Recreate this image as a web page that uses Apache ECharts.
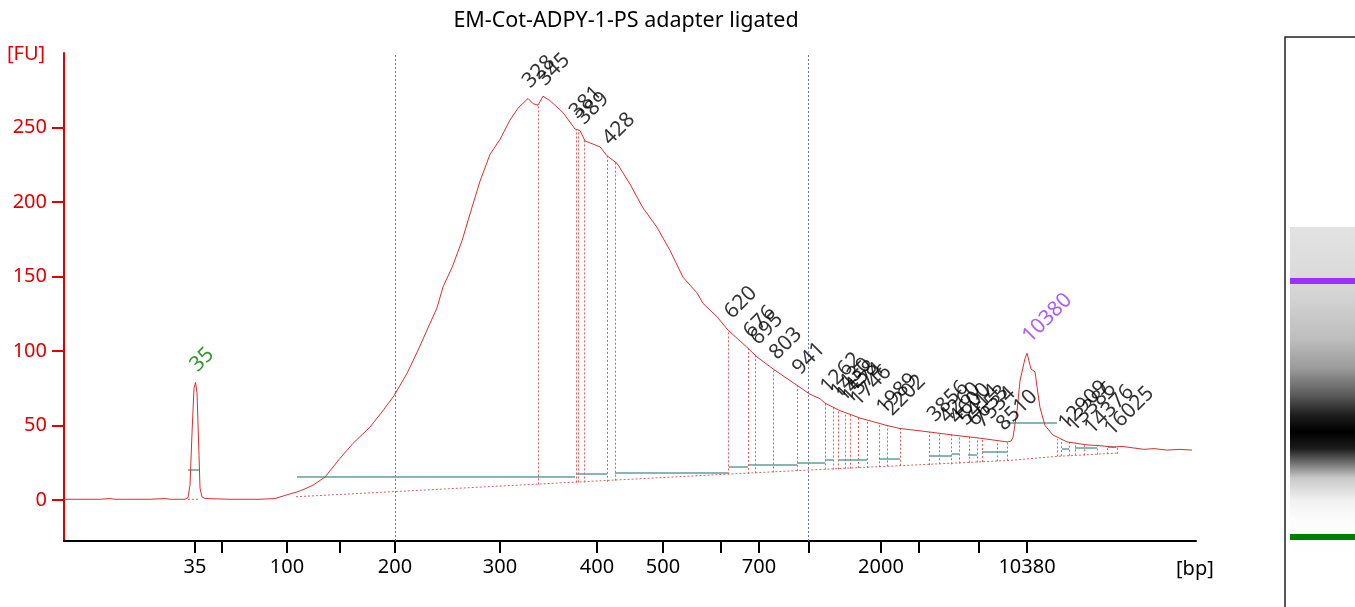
<!DOCTYPE html>
<html><head><meta charset="utf-8">
<script src="https://cdn.jsdelivr.net/npm/echarts@6/dist/echarts.min.js"></script>
<style>html,body{margin:0;padding:0;background:#fff}#c{width:1355px;height:607px}</style>
</head><body><div id="c"></div>
<script>
// migration position (arbitrary units) and fluorescence [FU]
const traceX = [0,36,46,51,86,101,106,121,124,126,128,130,131.5,133,135,136,138,141,166,196,211,213,223,233,241,249,261,276,289,306,319,330,343,354,363,373,379,388,398,406,416,426,436,446,454,464,469,474,479,486,499,511,516,521,536,543,553,566,579,593,606,619,633,639,653,664,666,683,693,711,733,746,756,761,776,796,823,836,866,889,916,943,947,949,953,956,961,963,965,967,971,973,976,981,989,1003,1013,1023,1035,1049,1058,1069,1080,1090,1103,1115,1128];
const traceY = [0.5,0.5,1,0.5,0.5,1,0.5,0.5,1.5,10,45,75,79,72,30,8,2,1,0.5,0.5,1,2,3.5,5.4,7.5,10,15.4,28,38,49,60,70,85,100.5,114,129,143,156,174,192,214,232,242,255,263,269.5,266,265,271,268,260,249,248,241,237,231,226,212,196,183,167.5,149.5,139,132,123,114,114.6,102.5,96,87,77,71,68,65,60,55,50,48,45.6,43.6,41.5,39,39.5,42,60,80,95,98.5,98.5,88,86,76,62,50,43.6,39,38,37,36.5,35.5,36,35,34,34.5,33.5,34,33.5];

// dashed baseline under the peaks
const baseX = [124,136,null,232,474,664,756,944,993,1053];
const baseY = [0.5,0.5,null,2.2,10.7,17.4,20.5,26.5,29.3,31.5];

// peak boundaries: position, trace level, baseline level
const boundPos = [474,512,514,520,543,551,664,684,691,709,733,761,769,774,781,786,794,803,815,823,836,865,875,887,895,905,913,918,933,943,993,997,1005,1011,1020,1033,1043,1053];
const boundTop = [265,249,248,242,231,227,114,102,97,88,77,65,62,60,58,57,55,53,51,50,48,45.6,45,44,43,42.5,42,41,40,39,41,41,39,38.5,38,37,36,35.5];
const boundBot = [10.5,11.8,11.8,11.8,12.2,13,17.2,17.5,18,18.5,19.5,20.5,20.5,20.5,21,21,21.5,21.5,22,22.5,23,23.5,24,24,24.5,25,25.3,25.5,26,26.5,29.3,29.5,29.7,30,30,30.5,30.7,31];

// teal peak-level segments: start, end, level
const segStart = [124,233,512,551,665,685,733,761,774,815,865,888,904,918,943,998,1011,1044];
const segEnd   = [136,511,543,664,684,733,761,769,803,836,888,895,913,943,993,1005,1033,1052];
const segLevel = [20,15.4,17.4,18.6,22.3,24,25.3,27,27,27.9,29.4,31,30.6,32.2,52,34.4,34.9,36];

// peak annotations
const peakBp  = ['35','328','345','381','389','428','620','676','695','803','941','1262','1430','1458','1574','1746','1989','2202','3856','4260','4600','5414','6653','7534','8510','10380','12909','13386','14376','16025'];
const peakPos = [131.5,464,479,511,518,544,666,685,692,711,734,762,772,778,784,792,818,826,869,881,891,900,909,916,938,964,1000,1008,1026,1046];
const peakFU  = [79,269.5,271,249,245,231,114.6,101.5,97,87,77,64.5,61,59,57.5,56,50.5,49.5,45.5,44.5,44,43,42.5,41.5,39.5,98.5,40,39,37,36];
const peakKind = ['lower','s','s','s','s','s','s','s','s','s','s','s','s','s','s','s','s','s','s','s','s','s','s','s','s','upper','s','s','s','s'];

// x axis ticks (position) and labels [bp]
const tickPos = [131,158,223,276,331,436,533,599,657,695,745,817,855,915,963];
const tickLab = ['35','','100','','200','300','400','500','','700','','2000','','','10380'];
// smear region limits (200 bp, 1000 bp)
const regionPos = [331,744];
const yTicks = [0,50,100,150,200,250];

const FONT = 'Noto Sans';
const kindColor = {lower:'#008000', upper:'#9933ff', s:'#000000'};

const chart = echarts.init(document.getElementById('c'));
chart.setOption({
  animation:false,
  backgroundColor:'#fff',
  title:{text:'EM-Cot-ADPY-1-PS adapter ligated', left:621, top:5, textAlign:'center',
    textStyle:{fontFamily:FONT, fontSize:21.5, fontWeight:'normal', color:'#000'}},
  grid:{left:64, right:159, top:53, bottom:66, outerBoundsMode:'none', containLabel:false},
  xAxis:{type:'value', min:0, max:1132,
    axisLine:{onZero:false, lineStyle:{color:'#000', width:2}},
    axisTick:{customValues:tickPos, length:12, inside:false, lineStyle:{color:'#000', width:2}},
    axisLabel:{customValues:tickPos, margin:16, color:'#000', fontFamily:FONT, fontSize:20,
      formatter:(v)=>{const i=tickPos.indexOf(v);return i>=0?tickLab[i]:'';}},
    splitLine:{show:false}},
  yAxis:{type:'value', min:-27.5, max:300,
    axisLine:{show:true, lineStyle:{color:'#e00000', width:2}},
    axisTick:{show:true, customValues:yTicks, length:12, lineStyle:{color:'#e00000', width:2}},
    axisLabel:{customValues:yTicks, margin:17, color:'#e00000', fontFamily:FONT, fontSize:20},
    splitLine:{show:false}},
  graphic:[
    {type:'text', left:7, top:44, style:{text:'[FU]', fill:'#e00000', font:'20px "Noto Sans"'}},
    {type:'text', left:1176, top:559, style:{text:'[bp]', fill:'#000', font:'20px "Noto Sans"'}},
    {type:'polyline', shape:{points:[[1285,607],[1285,37],[1355,37]]}, style:{stroke:'#222', lineWidth:1.5, fill:null}},
    {type:'rect', shape:{x:1290, y:227, width:65, height:330}, style:{fill:new echarts.graphic.LinearGradient(0,0,0,1,[
      {offset:0,color:'#e2e2e2'},{offset:0.13,color:'#dcdcdc'},{offset:0.22,color:'#d2d2d2'},
      {offset:0.34,color:'#bdbdbd'},{offset:0.43,color:'#9a9a9a'},{offset:0.51,color:'#5a5a5a'},
      {offset:0.57,color:'#1e1e1e'},{offset:0.62,color:'#000'},{offset:0.67,color:'#1a1a1a'},
      {offset:0.72,color:'#7a7a7a'},{offset:0.76,color:'#c8c8c8'},{offset:0.83,color:'#f2f2f2'},
      {offset:0.89,color:'#fcfcfc'},{offset:1,color:'#fff'}])}},
    {type:'rect', shape:{x:1290, y:278, width:65, height:6}, style:{fill:'#9b30ff'}},
    {type:'rect', shape:{x:1290, y:534, width:65, height:6}, style:{fill:'#008000'}}
  ],
  series:[
    {type:'line', data:traceX.map((x,i)=>[x,traceY[i]]), showSymbol:false, symbol:'none',
      lineStyle:{color:'#d83030', width:1}, z:5,
      markLine:{silent:true, symbol:'none', label:{show:false},
        lineStyle:{color:'#7070c0', type:[2,2], width:1},
        data:regionPos.map(p=>({xAxis:p}))}},
    {type:'line', data:baseX.map((x,i)=>x===null?'-':[x,baseY[i]]), showSymbol:false, symbol:'none', connectNulls:false,
      lineStyle:{color:'#e06060', width:1, type:[2,2]}, z:3},
    {type:'lines', coordinateSystem:'cartesian2d', polyline:false, silent:true,
      lineStyle:{color:'#e06060', width:1, type:[2,2], opacity:1}, z:3,
      data:boundPos.map((p,i)=>({coords:[[p,boundBot[i]],[p,boundTop[i]]]}))},
    {type:'lines', coordinateSystem:'cartesian2d', polyline:false, silent:true,
      lineStyle:{color:'#5f9f96', width:1.5, opacity:1}, z:4,
      data:segStart.map((s,i)=>({coords:[[s,segLevel[i]],[segEnd[i],segLevel[i]]]}))},
    {type:'scatter', symbolSize:0, silent:true, z:6,
      data:peakPos.map((p,i)=>({value:[p,peakFU[i]], name:peakBp[i],
        label:{color:kindColor[peakKind[i]]}})),
      label:{show:true, formatter:(d)=>d.name, position:[-2,-14], align:'left', verticalAlign:'middle',
        rotate:45, fontFamily:FONT, fontSize:21}}
  ]
});
</script></body></html>
